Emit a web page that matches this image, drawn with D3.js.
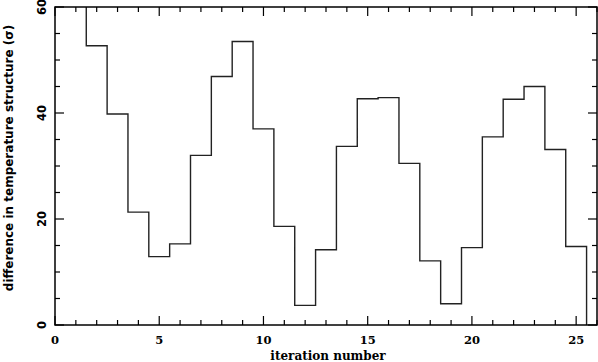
<!DOCTYPE html>
<html><head><meta charset="utf-8">
<script src="https://cdn.jsdelivr.net/npm/d3@7"></script>
<style>body{margin:0;background:#fff}svg{display:block}</style>
</head><body>
<svg id="c" width="598" height="362"></svg>
<script>
// iteration numbers (bin centres) and values of the histogram
const iterations = [1,2,3,4,5,6,7,8,9,10,11,12,13,14,15,16,17,18,19,20,21,22,23,24,25];
const differences = [75,52.7,39.8,21.3,12.9,15.3,32.0,46.9,53.5,37.0,18.6,3.7,14.2,33.7,42.7,42.9,30.5,12.1,4.0,14.6,35.5,42.6,45.0,33.1,14.8];
const xMajorTicks = [0,5,10,15,20,25];
const yMajorTicks = [0,20,40,60];
const xLabel = "iteration number";
const yLabel = "difference in temperature structure (\u03c3)";

const svg = d3.select("#c");
const L = 55, R = 597, T = 7, B = 325;
const x = d3.scaleLinear().domain([0,26]).range([L,R]);
const y = d3.scaleLinear().domain([0,60]).range([B,T]);

svg.append("clipPath").attr("id","clip").append("rect")
  .attr("x",L).attr("y",T).attr("width",R-L).attr("height",B-T);

// step data
const pts = iterations.map((it,i)=>({x:it-0.5, v:differences[i]}));
pts.push({x: iterations[iterations.length-1]+0.5, v:0});
const line = d3.line().x(d=>x(d.x)).y(d=>y(d.v)).curve(d3.curveStepAfter);
svg.append("path").datum(pts).attr("d",line)
  .attr("fill","none").attr("stroke","#222").attr("stroke-width",1.4)
  .attr("clip-path","url(#clip)");

// ticks (inward on all sides)
const xMinor = d3.range(0,27,1);
const yMinor = d3.range(0,61,5);
const g = svg.append("g").attr("stroke","#000").attr("stroke-width",1.2);
xMinor.forEach(t=>{
  const len = (t%5===0)?9:5;
  g.append("line").attr("x1",x(t)).attr("x2",x(t)).attr("y1",B).attr("y2",B-len);
  g.append("line").attr("x1",x(t)).attr("x2",x(t)).attr("y1",T).attr("y2",T+len);
});
yMinor.forEach(t=>{
  const len = (t%20===0)?9:5;
  g.append("line").attr("y1",y(t)).attr("y2",y(t)).attr("x1",L).attr("x2",L+len);
  g.append("line").attr("y1",y(t)).attr("y2",y(t)).attr("x1",R).attr("x2",R-len);
});
svg.append("rect").attr("x",L).attr("y",T).attr("width",R-L).attr("height",B-T)
  .attr("fill","none").attr("stroke","#000").attr("stroke-width",1.5);

// tick labels
svg.append("g").selectAll("text").data(xMajorTicks).join("text")
  .attr("x",d=>x(d)).attr("y",344).attr("text-anchor","middle")
  .attr("font-family","DejaVu Serif").attr("font-weight","bold").attr("font-size",11.5)
  .text(d=>d);
svg.append("g").selectAll("text").data(yMajorTicks).join("text")
  .attr("transform",d=>`translate(46,${y(d)}) rotate(-90)`)
  .attr("text-anchor","middle")
  .attr("font-family","DejaVu Sans").attr("font-weight","bold").attr("font-size",11.5)
  .text(d=>d);

// axis titles
svg.append("text").attr("x",(L+R)/2+2).attr("y",360).attr("text-anchor","middle")
  .attr("font-family","DejaVu Serif").attr("font-weight","bold").attr("font-size",12)
  .text(xLabel);
svg.append("text").attr("transform",`translate(13,158) rotate(-90)`)
  .attr("text-anchor","middle")
  .attr("font-family","DejaVu Sans").attr("font-weight","bold").attr("font-size",12)
  .text(yLabel);
</script>
</body></html>
